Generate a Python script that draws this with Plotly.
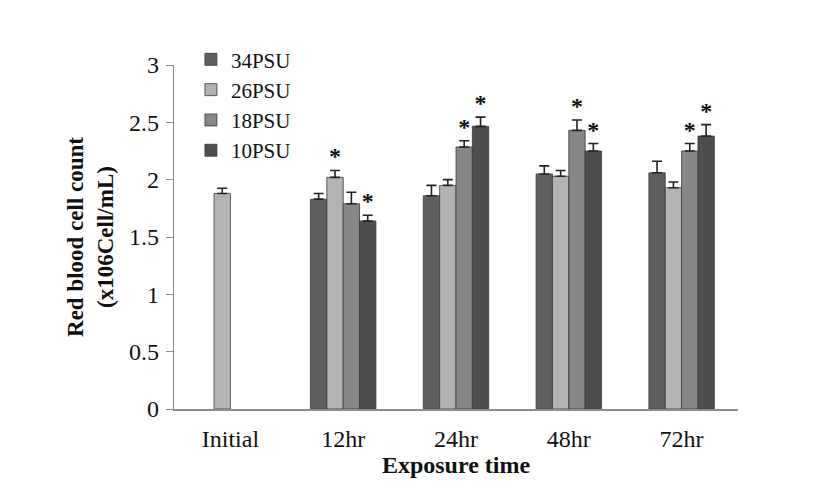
import plotly.graph_objects as go

categories = ["Initial", "12hr", "24hr", "48hr", "72hr"]
series_names = ["34PSU", "26PSU", "18PSU", "10PSU"]

psu34 = [None, 1.83, 1.86, 2.05, 2.06]
psu26 = [1.88, 2.02, 1.95, 2.03, 1.93]
psu18 = [None, 1.79, 2.285, 2.43, 2.25]
psu10 = [None, 1.64, 2.465, 2.25, 2.38]

err34 = [0, 0.05, 0.09, 0.07, 0.10]
err26 = [0.045, 0.06, 0.05, 0.05, 0.05]
err18 = [0, 0.10, 0.055, 0.09, 0.065]
err10 = [0, 0.05, 0.08, 0.065, 0.10]

# significance markers (True = asterisk above bar)
sig34 = [False, False, False, False, False]
sig26 = [False, True, False, False, False]
sig18 = [False, False, True, True, True]
sig10 = [False, True, True, True, True]

colors = ["#5f5f5f", "#b3b3b3", "#878787", "#4e4e4e"]
values = [psu34, psu26, psu18, psu10]
errors = [err34, err26, err18, err10]
sigs = [sig34, sig26, sig18, sig10]

serif = "Liberation Serif, Times New Roman, serif"

fig = go.Figure()
for name, vals, errs, col in zip(series_names, values, errors, colors):
    fig.add_trace(go.Bar(
        x=categories, y=vals, name=name,
        marker=dict(color=col, line=dict(color="#3a3a3a", width=0.8)),
        error_y=dict(type="data", array=errs, arrayminus=[0] * len(errs),
                     symmetric=False, color="#222222", thickness=1.6, width=5),
    ))

for name, vals, errs, sg in zip(series_names, values, errors, sigs):
    ys = [(v + e) if (s and v is not None) else None for v, e, s in zip(vals, errs, sg)]
    fig.add_trace(go.Scatter(
        x=categories, y=ys, mode="text", text=["<b>*</b>"] * len(categories),
        textposition="top center", showlegend=False,
        textfont=dict(family=serif, size=24, color="#111111"),
        hoverinfo="skip", cliponaxis=False,
    ))

fig.update_layout(
    width=819, height=482,
    barmode="group", bargap=0.42, bargroupgap=0,
    scattermode="group", scattergap=0.42,
    plot_bgcolor="white", paper_bgcolor="white",
    margin=dict(l=166, r=89, t=57, b=81),
    font=dict(family=serif, size=24, color="#111111"),
    legend=dict(x=0.03, y=1.075, xanchor="left", yanchor="top",
                font=dict(family=serif, size=21, color="#111111"),
                bgcolor="rgba(0,0,0,0)", itemwidth=30, traceorder="normal"),
    xaxis=dict(showline=True, linecolor="#8c8c8c", linewidth=1.5,
               ticks="", tickfont=dict(family=serif, size=24),
               ticklabelstandoff=7, automargin=False,
               title=dict(text="<b>Exposure time</b>", standoff=0,
                          font=dict(family=serif, size=24))),
    yaxis=dict(range=[0, 3], dtick=0.5, showgrid=False, zeroline=False,
               showline=True, linecolor="#8c8c8c", linewidth=1.2,
               ticks="outside", ticklen=7, tickcolor="#8c8c8c",
               tickfont=dict(family=serif, size=24), ticklabelstandoff=2,
               tickformat="~g", automargin=False,
               title=dict(text="<b>Red blood cell count<br>(x106Cell/mL)</b>",
                          standoff=9, font=dict(family=serif, size=23))),
)

fig.write_html("out.html")
